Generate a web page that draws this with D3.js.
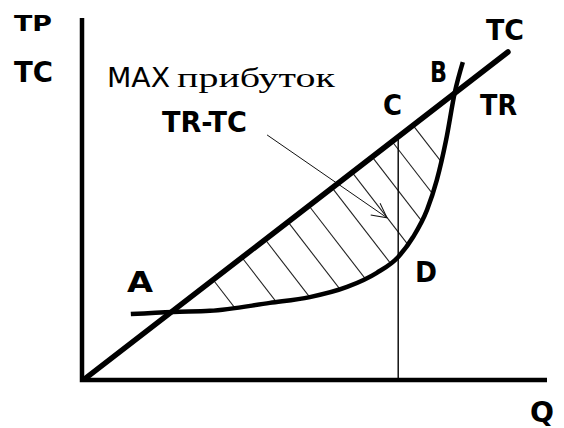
<!DOCTYPE html>
<meta charset="utf-8">
<title>MAX прибуток</title>
<style>
body { margin: 0; background: #fff; }
svg { display: block; }
.lbl { font-family: "DejaVu Sans", sans-serif; font-weight: bold; fill: #000; }
</style>
<svg></svg>
<script src="https://d3js.org/d3.v7.min.js"></script>
<script>
var width = 564,
  height = 428;

// TC: straight line (Q, value)
var tcQ = [0.8, 91.6];
var tcV = [0.5, 90.6];

// TR: curved line (Q, value)
var trQ = [10.5, 19.6, 27.5, 40.4, 49.0, 57.0, 63.4, 68.0, 71.2, 74.2, 76.3, 78.3, 80.2, 81.9];
var trV = [18.2, 18.8, 19.1, 21.3, 22.9, 25.7, 29.6, 34.0, 39.5, 47.0, 55.2, 66.3, 79.6, 87.8];

// Q where the hatch strokes leave the TC line
var hatchQ = [28.2, 34.4, 39.4, 44.3, 48.8, 53.8, 58.1, 62.4, 66.7, 71.2];

// Q of max profit (C - D)
var maxQ = 68.0;

// arrow from the "TR-TC" label into the shaded area (Q, value)
var arrowQ = [39.8, 65.6];
var arrowV = [67.7, 44.8];

var svg = d3.select("svg")
  .attr("width", width)
  .attr("height", height);

var x = d3.scaleLinear().domain([0, 100]).range([82, 547]);
var y = d3.scaleLinear().domain([0, 100]).range([380, 18]);

function tcAt(q) {
  return tcV[0] + (q - tcQ[0]) * (tcV[1] - tcV[0]) / (tcQ[1] - tcQ[0]);
}

var trPts = trQ.map((q, i) => [q, trV[i]]);

var line = d3.line()
  .x(d => x(d[0]))
  .y(d => y(d[1]))
  .curve(d3.curveMonotoneX);

// clip: region above / left of the TR curve
var defs = svg.append("defs");
defs.append("clipPath")
  .attr("id", "above")
  .append("path")
  .attr("d", line(trPts) + "L" + x(0) + "," + y(100) + "Z");

defs.append("marker")
  .attr("id", "head")
  .attr("viewBox", "0 0 20 20")
  .attr("refX", 18)
  .attr("refY", 10)
  .attr("markerWidth", 20)
  .attr("markerHeight", 20)
  .attr("markerUnits", "userSpaceOnUse")
  .attr("orient", "auto")
  .append("path")
  .attr("d", "M4,2 L18,10 L3,17")
  .attr("fill", "none")
  .attr("stroke", "#111")
  .attr("stroke-width", 1);

// hatch, perpendicular to TC line
var dx = x(tcQ[1]) - x(tcQ[0]),
  dy = y(tcV[1]) - y(tcV[0]),
  len = Math.sqrt(dx * dx + dy * dy),
  px = -dy / len,
  py = dx / len;
if (py < 0) { px = -px; py = -py; }

svg.append("g")
  .attr("clip-path", "url(#above)")
  .selectAll("line")
  .data(hatchQ)
  .enter()
  .append("line")
  .attr("x1", d => x(d))
  .attr("y1", d => y(tcAt(d)))
  .attr("x2", d => x(d) + px * 160)
  .attr("y2", d => y(tcAt(d)) + py * 160)
  .attr("stroke", "#222")
  .attr("stroke-width", 1.1);

// vertical line C-D
svg.append("line")
  .attr("x1", x(maxQ))
  .attr("x2", x(maxQ))
  .attr("y1", y(tcAt(maxQ)))
  .attr("y2", y(0))
  .attr("stroke", "#000")
  .attr("stroke-width", 1.4);

// arrow
svg.append("line")
  .attr("x1", x(arrowQ[0]))
  .attr("y1", y(arrowV[0]))
  .attr("x2", x(arrowQ[1]))
  .attr("y2", y(arrowV[1]))
  .attr("stroke", "#111")
  .attr("stroke-width", 1)
  .attr("marker-end", "url(#head)");

// axes
svg.append("path")
  .attr("d", "M" + x(0) + "," + y(100) + "V" + y(0) + "H" + x(100))
  .attr("fill", "none")
  .attr("stroke", "#000")
  .attr("stroke-width", 4.5);

// TC line
svg.append("line")
  .attr("x1", x(tcQ[0]))
  .attr("y1", y(tcV[0]))
  .attr("x2", x(tcQ[1]))
  .attr("y2", y(tcV[1]))
  .attr("stroke", "#000")
  .attr("stroke-width", 5.5)
  .attr("stroke-linecap", "round");

// TR curve
svg.append("path")
  .attr("d", line(trPts))
  .attr("fill", "none")
  .attr("stroke", "#000")
  .attr("stroke-width", 4.5)
  .attr("stroke-linecap", "butt");

// labels: [text, x, baseline, size, width]
var labels = [
  ["TP", 14, 31, 21, 38],
  ["TC", 14, 82, 28, 39],
  ["TR-TC", 162, 132, 28, 85],
  ["TC", 486, 40, 28, 38],
  ["B", 430, 82, 28, 17],
  ["C", 383, 115, 28, 19],
  ["TR", 480, 115, 28, 37],
  ["A", 127, 292, 28, 26],
  ["D", 415, 282, 28, 22],
  ["Q", 530, 422, 28, 24]
];

svg.append("g")
  .selectAll("text")
  .data(labels)
  .enter()
  .append("text")
  .attr("class", "lbl")
  .attr("x", d => d[1])
  .attr("y", d => d[2])
  .attr("font-size", d => d[3])
  .attr("textLength", d => d[4])
  .attr("lengthAdjust", "spacingAndGlyphs")
  .text(d => d[0]);

svg.append("text")
  .attr("x", 107)
  .attr("y", 87)
  .attr("font-family", "'DejaVu Sans', sans-serif")
  .attr("font-size", 26)
  .attr("textLength", 63)
  .attr("lengthAdjust", "spacingAndGlyphs")
  .text("MAX");

svg.append("text")
  .attr("x", 177)
  .attr("y", 87)
  .attr("font-family", "'Liberation Serif', 'DejaVu Serif', serif")
  .attr("font-size", 28)
  .attr("textLength", 158)
  .attr("lengthAdjust", "spacingAndGlyphs")
  .text("прибуток");
</script>
